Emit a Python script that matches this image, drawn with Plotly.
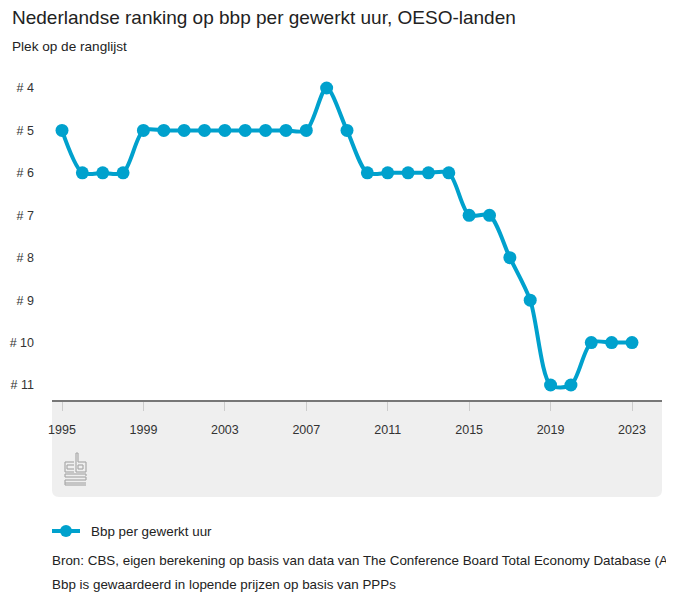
import plotly.graph_objects as go

years = list(range(1995, 2024))
ranks = [5, 6, 6, 6, 5, 5, 5, 5, 5, 5, 5, 5, 5, 4, 5, 6, 6, 6, 6, 6,
         7, 7, 8, 9, 11, 11, 10, 10, 10]
x_ticks = [1995, 1999, 2003, 2007, 2011, 2015, 2019, 2023]
y_ticks = [4, 5, 6, 7, 8, 9, 10, 11]
y_labels = ["# %d" % v for v in y_ticks]

title = "Nederlandse ranking op bbp per gewerkt uur, OESO-landen"
subtitle = "Plek op de ranglijst"
series_name = "Bbp per gewerkt uur"
source1 = "Bron: CBS, eigen berekening op basis van data van The Conference Board Total Economy Database (April 2024)"
source2 = "Bbp is gewaardeerd in lopende prijzen op basis van PPPs"

BLUE = "#00a1cd"
FONT = "Liberation Sans, Arial, sans-serif"

OFF = 8  # page body margin
W, H = 674 - OFF, 613 - OFF
# target pixel positions in the screenshot
PL, PR, PT, PAX = 52, 662, 75, 400  # plot left, plot right, plot top, axis line y
L, T = PL - OFF, PT - OFF
R = 674 - PR
B = 613 - PAX
pw, ph = W - L - R, H - T - B

def px_x(p):
    return (p - OFF - L) / pw

def px_y(p):
    return (H - B - (p - OFF)) / ph

fig = go.Figure()
fig.add_trace(go.Scatter(
    x=years, y=ranks, mode="lines+markers", name=series_name,
    line=dict(color=BLUE, width=4, shape="spline", smoothing=0.8),
    marker=dict(color=BLUE, size=13),
    cliponaxis=False,
))

# grey box below axis with rounded corners
x0, x1, y0, y1, r = 52, 662, 400, 497, 7
def P(x, y):
    return "%.5f,%.5f" % (px_x(x), px_y(y))
path = ("M " + P(x0, y0) + " L " + P(x1, y0) + " L " + P(x1, y1 - r) +
        " Q " + P(x1, y1) + " " + P(x1 - r, y1) + " L " + P(x0 + r, y1) +
        " Q " + P(x0, y1) + " " + P(x0, y1 - r) + " Z")
shapes = [dict(type="path", xref="paper", yref="paper", path=path,
               fillcolor="#efefef", line=dict(width=0), layer="below")]

# CBS logo approximation
LG = "#a8a8a8"
def seg(xa, ya, xb, yb):
    shapes.append(dict(type="line", xref="paper", yref="paper",
                       x0=px_x(xa), y0=px_y(ya), x1=px_x(xb), y1=px_y(yb),
                       line=dict(color=LG, width=1.2)))
# 'c' box
seg(65, 462, 74, 462); seg(65, 462, 65, 472); seg(65, 472, 74, 472)
seg(67, 465, 74, 465); seg(67, 465, 67, 469); seg(67, 469, 74, 469)
# 'b' box
seg(76, 453, 76, 472); seg(76, 472, 86, 472); seg(86, 472, 86, 462); seg(86, 462, 78, 462)
seg(78, 462, 78, 453); seg(76, 453, 78, 453)
seg(78, 465, 83, 465); seg(83, 465, 83, 469); seg(83, 469, 78, 469); seg(78, 469, 78, 465)
# 's' lines
for yy in [474, 477, 480, 483]:
    seg(65, yy, 86, yy)
seg(65, 474, 65, 477); seg(86, 477, 86, 480); seg(65, 480, 65, 483)
seg(86, 474, 86, 476); seg(65, 483, 65, 485); seg(65, 485, 86, 485)

texts = [
    (title, 10, 18, 19),
    (subtitle, 10, 47, 13.6),
    (series_name, 89, 531, 13.4),
    (source1, 49.5, 560, 13.4),
    (source2, 49.5, 584, 13.4),
]
annotations = []
for t, x, y, s in texts:
    annotations.append(dict(text=t, xref="paper", yref="paper",
                            x=px_x(x), y=px_y(y), xanchor="left", yanchor="middle",
                            showarrow=False, font=dict(family=FONT, size=s, color="#222")))

# legend symbol
shapes.append(dict(type="line", xref="paper", yref="paper",
                   x0=px_x(52), y0=px_y(531), x1=px_x(80), y1=px_y(531),
                   line=dict(color=BLUE, width=4)))
shapes.append(dict(type="circle", xref="paper", yref="paper",
                   x0=px_x(60), y0=px_y(537), x1=px_x(72), y1=px_y(525),
                   fillcolor=BLUE, line=dict(width=0)))

fig.update_layout(
    width=W, height=H, margin=dict(l=L, r=R, t=T, b=B, autoexpand=False),
    plot_bgcolor="white", paper_bgcolor="white",
    showlegend=False,
    font=dict(family=FONT, size=12, color="#333"),
    xaxis=dict(range=[1995 - 10 / 20.357, 2023 + 30 / 20.357], tickvals=x_ticks,
               ticktext=[str(v) for v in x_ticks], automargin=False,
               showgrid=False, zeroline=False, showline=True, linecolor="#777", linewidth=1.5,
               ticks="outside", ticklen=9, tickcolor="#cccccc", tickwidth=1,
               ticklabelstandoff=8, tickfont=dict(size=12.5, color="#333")),
    yaxis=dict(range=[11 + 15 / 42.43, 4 - 13 / 42.43], tickvals=y_ticks, ticktext=y_labels,
               showgrid=False, zeroline=False, showline=False, ticks="", automargin=False,
               ticklabelstandoff=17, tickfont=dict(size=12.5, color="#333")),
    shapes=shapes, annotations=annotations,
)

fig.write_html("out.html")
